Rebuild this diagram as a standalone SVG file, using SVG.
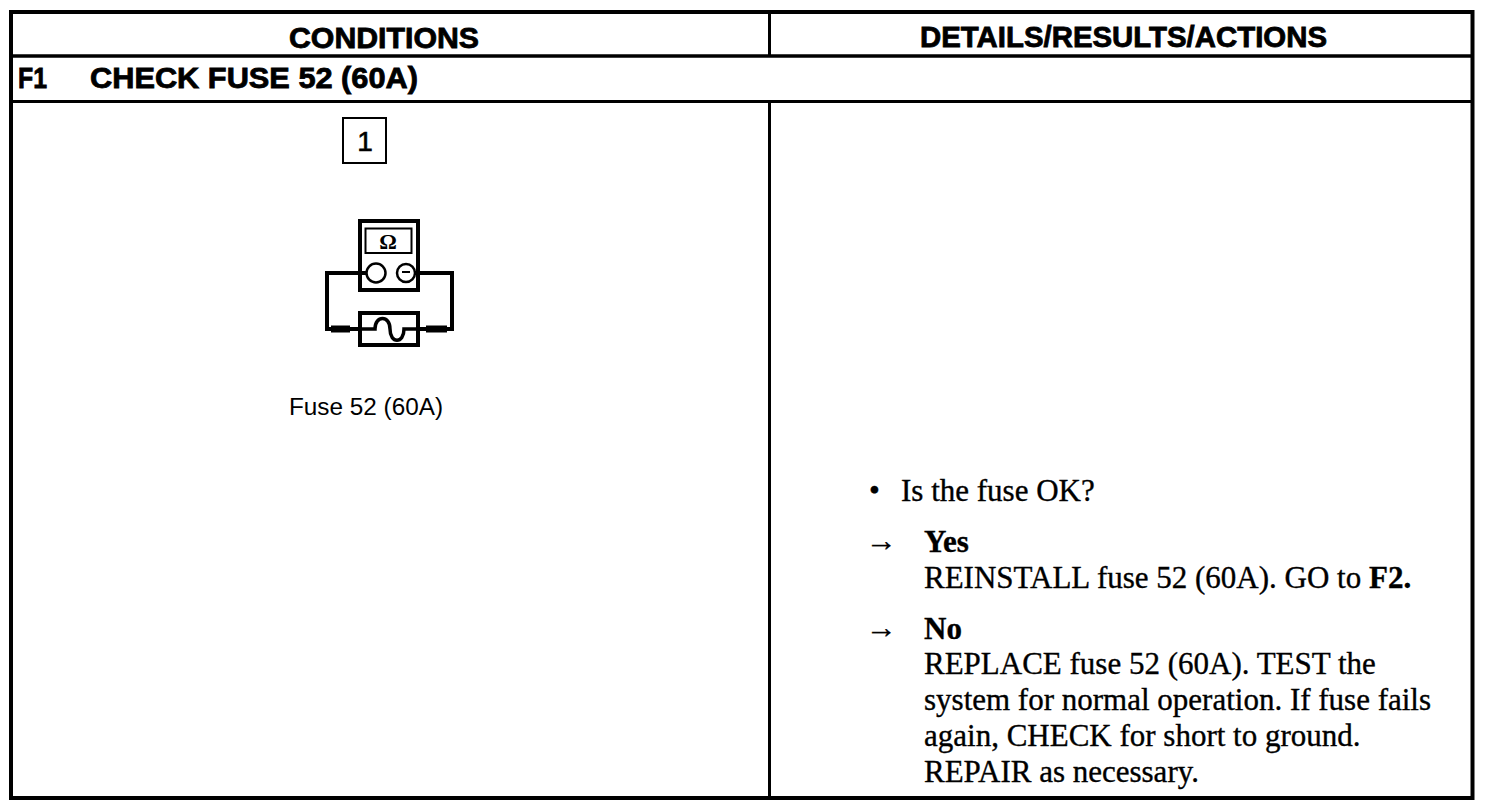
<svg xmlns="http://www.w3.org/2000/svg" width="1504" height="810" viewBox="0 0 1504 810">
<style>
.hd{font-family:"Liberation Sans",Arial,sans-serif;font-weight:bold;font-size:29px;fill:#000;stroke:#000;stroke-width:0.8px}
.sans{font-family:"Liberation Sans",Arial,sans-serif;fill:#000}
.serif{font-family:"Liberation Serif","Times New Roman",serif;font-size:31px;fill:#000;stroke:#000;stroke-width:0.35px}
.b{font-weight:bold}
.ln{stroke:#000;fill:none}
</style>
<rect width="1504" height="810" fill="#fff"/>
<g id="table">
<rect class="ln" x="11" y="12" width="1461.5" height="786" stroke-width="4"/>
<line class="ln" x1="11" y1="56" x2="1472" y2="56" stroke-width="3.5"/>
<line class="ln" x1="11" y1="101.5" x2="1472" y2="101.5" stroke-width="3"/>
<line class="ln" x1="769.5" y1="12" x2="769.5" y2="56" stroke-width="3"/>
<line class="ln" x1="769.5" y1="101" x2="769.5" y2="798" stroke-width="3"/>
</g>
<g id="headers">
<text class="hd" x="289" y="48" textLength="190" lengthAdjust="spacingAndGlyphs">CONDITIONS</text>
<text class="hd" x="920" y="47" textLength="407" lengthAdjust="spacingAndGlyphs">DETAILS/RESULTS/ACTIONS</text>
<text class="hd" x="18" y="88" textLength="29" lengthAdjust="spacingAndGlyphs">F1</text>
<text class="hd" x="90" y="88" textLength="328" lengthAdjust="spacingAndGlyphs">CHECK FUSE 52 (60A)</text>
</g>
<g id="step-1">
<rect class="ln" x="343" y="118" width="43" height="45" stroke-width="2"/>
<text class="sans" x="365" y="151" font-size="28" text-anchor="middle" stroke="#000" stroke-width="0.6">1</text>
</g>
<g id="ohmmeter">
<rect class="ln" x="360" y="221" width="58" height="69" stroke-width="4"/>
<rect class="ln" x="365.5" y="228.5" width="46" height="24.5" stroke-width="2"/>
<text x="388" y="249" font-family="Liberation Serif,serif" font-size="22" font-weight="bold" text-anchor="middle" fill="#000">Ω</text>
<circle class="ln" cx="376" cy="273" r="9.5" stroke-width="2.5"/>
<circle class="ln" cx="406" cy="273" r="9" stroke-width="2.5"/>
<line class="ln" x1="402" y1="272" x2="410" y2="272" stroke-width="2"/>
<path class="ln" d="M366.5,273 H327 V329 H359" stroke-width="4"/>
<path class="ln" d="M415,273 H452 V329 H418" stroke-width="4"/>
<line class="ln" x1="331" y1="329" x2="350" y2="329" stroke-width="7"/>
<line class="ln" x1="426" y1="329" x2="447" y2="329" stroke-width="7"/>
</g>
<g id="fuse">
<rect class="ln" x="360" y="313" width="58" height="32" stroke-width="4"/>
<path class="ln" d="M360,329 H375 C375,315 390,315 390,329 C390,344 404,344 404,329 H418" stroke-width="3.5"/>
<text class="sans" x="289" y="415" font-size="23" textLength="154" lengthAdjust="spacingAndGlyphs">Fuse 52 (60A)</text>
</g>
<g id="details">
<text class="serif" x="869" y="501" font-size="30">•</text>
<text class="serif" x="901" y="501">Is the fuse OK?</text>
<text class="serif" x="866" y="551" font-size="20">→</text>
<text class="serif b" x="924" y="552">Yes</text>
<text class="serif" x="924" y="588">REINSTALL fuse 52 (60A). GO to <tspan class="b">F2.</tspan></text>
<text class="serif" x="866" y="638" font-size="20">→</text>
<text class="serif b" x="924" y="639">No</text>
<text class="serif" x="924" y="674">REPLACE fuse 52 (60A). TEST the</text>
<text class="serif" x="924" y="710">system for normal operation. If fuse fails</text>
<text class="serif" x="924" y="746">again, CHECK for short to ground.</text>
<text class="serif" x="924" y="782">REPAIR as necessary.</text>
</g>
</svg>
